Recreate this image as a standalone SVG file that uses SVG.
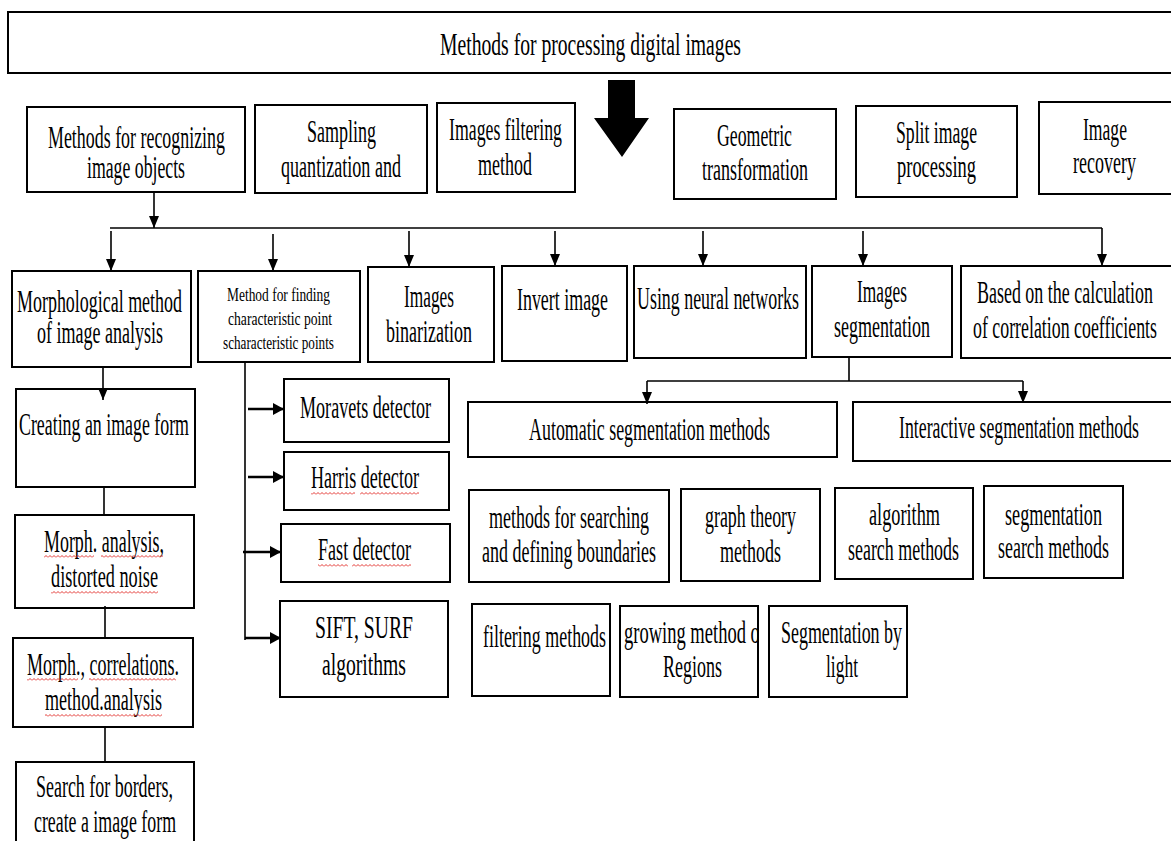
<svg xmlns="http://www.w3.org/2000/svg" width="1171" height="841" viewBox="0 0 1171 841">
<style>
.box{fill:#fff;stroke:#000;stroke-width:2}
.t{font-family:"Liberation Serif","Times New Roman",serif;font-size:31px;fill:#000}
.ts{font-size:18px}
.c{stroke:#000;stroke-width:1.6;fill:none}
.cb{stroke:#000;stroke-width:2.6;fill:none}
.wv{fill:url(#wave)}
</style>
<defs>
<marker id="ah" markerUnits="userSpaceOnUse" markerWidth="12" markerHeight="10" refX="12" refY="5" orient="auto"><path d="M0,0 L12,5 L0,10 z" fill="#000"/></marker>
<marker id="ahb" markerUnits="userSpaceOnUse" markerWidth="11" markerHeight="12" refX="11" refY="6" orient="auto"><path d="M0,0 L11,6 L0,12 z" fill="#000"/></marker>
<pattern id="wave" patternUnits="userSpaceOnUse" x="0" y="0" width="4" height="3"><path d="M0,2.5 L2,0.5 L4,2.5" fill="none" stroke="#e0201c" stroke-width="0.9"/></pattern>
<clipPath id="clipGrow"><rect x="620" y="606" width="138" height="91"/></clipPath>
</defs>
<rect width="1171" height="841" fill="#fff"/>

<g id="n_title"><rect class="box" x="8" y="12" width="1167" height="61"/><text class="t" x="440" y="55" textLength="301" lengthAdjust="spacingAndGlyphs">Methods for processing digital images</text></g>

<g id="big_arrow"><polygon points="608,80 635,80 635,118 649,118 622,157 594,118 608,118" fill="#000"/></g>

<g id="n_recog"><rect class="box" x="27" y="107" width="218" height="85"/><text class="t" x="48" y="148" textLength="177" lengthAdjust="spacingAndGlyphs">Methods for recognizing</text><text class="t" x="87" y="178" textLength="98" lengthAdjust="spacingAndGlyphs">image objects</text></g>
<g id="n_sampling"><rect class="box" x="255" y="105" width="172" height="88"/><text class="t" x="307" y="142" textLength="69" lengthAdjust="spacingAndGlyphs">Sampling</text><text class="t" x="281" y="177" textLength="120" lengthAdjust="spacingAndGlyphs">quantization and</text></g>
<g id="n_filter"><rect class="box" x="437" y="103" width="138" height="89"/><text class="t" x="449" y="140" textLength="113" lengthAdjust="spacingAndGlyphs">Images filtering</text><text class="t" x="478" y="175" textLength="54" lengthAdjust="spacingAndGlyphs">method</text></g>
<g id="n_geom"><rect class="box" x="674" y="109" width="162" height="90"/><text class="t" x="717" y="146" textLength="75" lengthAdjust="spacingAndGlyphs">Geometric</text><text class="t" x="702" y="180" textLength="106" lengthAdjust="spacingAndGlyphs">transformation</text></g>
<g id="n_split"><rect class="box" x="856" y="106" width="161" height="91"/><text class="t" x="896" y="143" textLength="81" lengthAdjust="spacingAndGlyphs">Split image</text><text class="t" x="897" y="177" textLength="79" lengthAdjust="spacingAndGlyphs">processing</text></g>
<g id="n_recovery"><rect class="box" x="1039" y="102" width="136" height="92"/><text class="t" x="1083" y="140" textLength="44" lengthAdjust="spacingAndGlyphs">Image</text><text class="t" x="1073" y="173" textLength="63" lengthAdjust="spacingAndGlyphs">recovery</text></g>

<g id="n_morph"><rect class="box" x="12" y="271" width="179" height="96"/><text class="t" x="17" y="312" textLength="165" lengthAdjust="spacingAndGlyphs">Morphological method</text><text class="t" x="37" y="343" textLength="126" lengthAdjust="spacingAndGlyphs">of image analysis</text></g>
<g id="n_charpts"><rect class="box" x="198" y="271" width="162" height="91"/><text class="t ts" x="227" y="301" textLength="103" lengthAdjust="spacingAndGlyphs">Method for finding</text><text class="t ts" x="228" y="325" textLength="104" lengthAdjust="spacingAndGlyphs">characteristic  point</text><text class="t ts" x="223" y="349" textLength="111" lengthAdjust="spacingAndGlyphs">scharacteristic points</text></g>
<g id="n_binar"><rect class="box" x="368" y="267" width="126" height="95"/><text class="t" x="404" y="307" textLength="50" lengthAdjust="spacingAndGlyphs">Images</text><text class="t" x="386" y="342" textLength="86" lengthAdjust="spacingAndGlyphs">binarization</text></g>
<g id="n_invert"><rect class="box" x="502" y="266" width="125" height="95"/><text class="t" x="517" y="310" textLength="91" lengthAdjust="spacingAndGlyphs">Invert image</text></g>
<g id="n_neural"><rect class="box" x="634" y="266" width="172" height="92"/><text class="t" x="637" y="309" textLength="162" lengthAdjust="spacingAndGlyphs">Using neural networks</text></g>
<g id="n_seg"><rect class="box" x="812" y="266" width="140" height="91"/><text class="t" x="857" y="302" textLength="50" lengthAdjust="spacingAndGlyphs">Images</text><text class="t" x="834" y="337" textLength="96" lengthAdjust="spacingAndGlyphs">segmentation</text></g>
<g id="n_corr"><rect class="box" x="961" y="266" width="214" height="92"/><text class="t" x="977" y="303" textLength="176" lengthAdjust="spacingAndGlyphs">Based on the calculation</text><text class="t" x="973" y="338" textLength="184" lengthAdjust="spacingAndGlyphs">of correlation coefficients</text></g>

<g id="n_create"><rect class="box" x="16" y="389" width="179" height="98"/><text class="t" x="19" y="435" textLength="170" lengthAdjust="spacingAndGlyphs">Creating an image form</text></g>
<g id="n_morphnoise"><rect class="box" x="15" y="515" width="179" height="93"/><text class="t" x="44" y="552" textLength="120" lengthAdjust="spacingAndGlyphs">Morph. analysis,</text><text class="t" x="51" y="587" textLength="107" lengthAdjust="spacingAndGlyphs">distorted noise</text><rect class="wv" x="44" y="555" width="50" height="3"/><rect class="wv" x="101" y="555" width="62" height="3"/><rect class="wv" x="51" y="591" width="107" height="3"/></g>
<g id="n_morphcorr"><rect class="box" x="13" y="638" width="180" height="89"/><text class="t" x="27" y="675" textLength="152" lengthAdjust="spacingAndGlyphs">Morph., correlations.</text><text class="t" x="45" y="710" textLength="117" lengthAdjust="spacingAndGlyphs">method.analysis</text><rect class="wv" x="27" y="678" width="51" height="3"/><rect class="wv" x="89" y="678" width="87" height="3"/><rect class="wv" x="45" y="714" width="117" height="3"/></g>
<g id="n_borders"><rect class="box" x="16" y="762" width="178" height="100"/><text class="t" x="36" y="797" textLength="137" lengthAdjust="spacingAndGlyphs">Search for borders,</text><text class="t" x="34" y="832" textLength="142" lengthAdjust="spacingAndGlyphs">create a image form</text></g>

<g id="n_moravets"><rect class="box" x="284" y="379" width="165" height="63"/><text class="t" x="300" y="418" textLength="131" lengthAdjust="spacingAndGlyphs">Moravets detector</text></g>
<g id="n_harris"><rect class="box" x="284" y="452" width="165" height="58"/><text class="t" x="311" y="488" textLength="108" lengthAdjust="spacingAndGlyphs">Harris detector</text><rect class="wv" x="311" y="492" width="44" height="3"/><rect class="wv" x="360" y="492" width="59" height="3"/></g>
<g id="n_fast"><rect class="box" x="281" y="524" width="169" height="58"/><text class="t" x="318" y="560" textLength="93" lengthAdjust="spacingAndGlyphs">Fast detector</text><rect class="wv" x="318" y="564" width="30" height="3"/><rect class="wv" x="352" y="564" width="59" height="3"/></g>
<g id="n_sift"><rect class="box" x="280" y="601" width="168" height="96"/><text class="t" x="315" y="638" textLength="98" lengthAdjust="spacingAndGlyphs">SIFT, SURF</text><text class="t" x="322" y="675" textLength="84" lengthAdjust="spacingAndGlyphs">algorithms</text></g>

<g id="n_auto"><rect class="box" x="468" y="402" width="369" height="55"/><text class="t" x="529" y="440" textLength="241" lengthAdjust="spacingAndGlyphs">Automatic segmentation methods</text></g>
<g id="n_interactive"><rect class="box" x="853" y="402" width="322" height="59"/><text class="t" x="899" y="438" textLength="240" lengthAdjust="spacingAndGlyphs">Interactive segmentation methods</text></g>
<g id="n_boundaries"><rect class="box" x="469" y="490" width="200" height="92"/><text class="t" x="489" y="528" textLength="160" lengthAdjust="spacingAndGlyphs">methods for searching</text><text class="t" x="482" y="562" textLength="174" lengthAdjust="spacingAndGlyphs">and defining boundaries</text></g>
<g id="n_graph"><rect class="box" x="681" y="489" width="139" height="92"/><text class="t" x="705" y="527" textLength="91" lengthAdjust="spacingAndGlyphs">graph theory</text><text class="t" x="720" y="562" textLength="61" lengthAdjust="spacingAndGlyphs">methods</text></g>
<g id="n_algsearch"><rect class="box" x="835" y="488" width="138" height="91"/><text class="t" x="869" y="525" textLength="71" lengthAdjust="spacingAndGlyphs">algorithm</text><text class="t" x="848" y="560" textLength="111" lengthAdjust="spacingAndGlyphs">search methods</text></g>
<g id="n_segsearch"><rect class="box" x="984" y="486" width="139" height="92"/><text class="t" x="1005" y="525" textLength="97" lengthAdjust="spacingAndGlyphs">segmentation</text><text class="t" x="998" y="558" textLength="111" lengthAdjust="spacingAndGlyphs">search methods</text></g>
<g id="n_filtering"><rect class="box" x="472" y="604" width="138" height="92"/><text class="t" x="483" y="647" textLength="123" lengthAdjust="spacingAndGlyphs">filtering methods</text></g>
<g id="n_growing"><rect class="box" x="620" y="606" width="138" height="91"/><text class="t" x="624" y="643" textLength="142" lengthAdjust="spacingAndGlyphs" clip-path="url(#clipGrow)">growing method of</text><text class="t" x="663" y="677" textLength="59" lengthAdjust="spacingAndGlyphs">Regions</text></g>
<g id="n_light"><rect class="box" x="769" y="606" width="138" height="91"/><text class="t" x="781" y="643" textLength="121" lengthAdjust="spacingAndGlyphs">Segmentation by</text><text class="t" x="826" y="677" textLength="32" lengthAdjust="spacingAndGlyphs">light</text></g>

<g id="connectors">
<path class="c" d="M154,192 V228" marker-end="url(#ah)"/>
<path class="c" d="M110,228 H1102"/>
<path class="c" d="M111,231 V271" marker-end="url(#ah)"/>
<path class="c" d="M273,234 V271" marker-end="url(#ah)"/>
<path class="c" d="M409,231 V267" marker-end="url(#ah)"/>
<path class="c" d="M555,231 V266" marker-end="url(#ah)"/>
<path class="c" d="M703,231 V266" marker-end="url(#ah)"/>
<path class="c" d="M863,231 V266" marker-end="url(#ah)"/>
<path class="c" d="M1102,228 V266" marker-end="url(#ah)"/>
<path class="c" d="M103,367 V400" marker-end="url(#ah)"/>
<path class="c" d="M104,487 V515"/>
<path class="c" d="M105,606 V638"/>
<path class="c" d="M105,727 V762"/>
<path class="c" d="M245,362 V640"/>
<path class="cb" d="M248,409 H284" marker-end="url(#ahb)"/>
<path class="cb" d="M248,477 H284" marker-end="url(#ahb)"/>
<path class="cb" d="M243,552 H281" marker-end="url(#ahb)"/>
<path class="cb" d="M245,638 H281" marker-end="url(#ahb)"/>
<path class="c" d="M849,357 V381 M647,381 H1023"/>
<path class="c" d="M647,381 V404" marker-end="url(#ah)"/>
<path class="c" d="M1023,381 V403" marker-end="url(#ah)"/>
</g>
</svg>
